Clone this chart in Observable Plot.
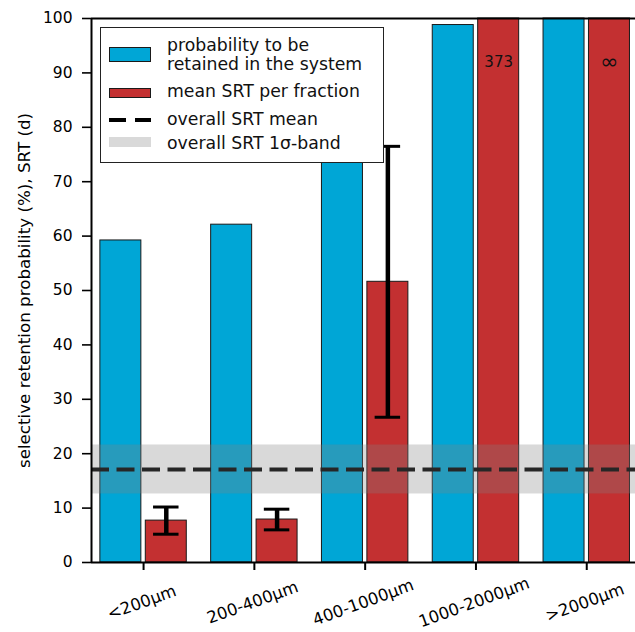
<!DOCTYPE html>
<html>
<head>
<meta charset="utf-8">
<script src="https://cdn.jsdelivr.net/npm/d3@7"></script>
<script src="https://cdn.jsdelivr.net/npm/@observablehq/plot@0.6"></script>
<style>
  html, body { margin: 0; padding: 0; background: #fff; }
  #wrap { position: relative; width: 635px; height: 632px; font-family: "DejaVu Sans", sans-serif; }
  #legend { position: absolute; left: 100px; top: 27px; width: 284px; height: 136px; background: #fff; border: 1.4px solid #222; box-sizing: border-box; }
  #legend .sw { position: absolute; left: 8px; width: 42px; box-sizing: border-box; }
  #legend .tx { position: absolute; left: 66px; font-size: 17.3px; line-height: 19px; white-space: nowrap; color: #111; }
</style>
</head>
<body>
<div id="wrap"></div>
<script>
// ---- data ----
const categories = ["<200μm", "200-400μm", "400-1000μm", "1000-2000μm", ">2000μm"];
const retentionProbability = [59.2, 62.1, 85, 98.8, 100];   // %
const srtMean = [7.7, 7.9, 51.6, 373, Infinity];            // d
const srtSd = [2.5, 1.9, 24.9, null, null];                 // d
const srtLabels = [null, null, null, "373", "∞"];
const overallSrtMean = 17.1;
const overallSrtSd = 4.5;
const yTicks = [0, 10, 20, 30, 40, 50, 60, 70, 80, 90, 100];

const legendLabels = ["probability to be\nretained in the system", "mean SRT per fraction", "overall SRT mean", "overall SRT 1σ-band"];

// ---- build table ----
const rows = categories.map((c, i) => ({
  i, c, r: retentionProbability[i], m: srtMean[i], sd: srtSd[i], lab: srtLabels[i]
}));
const yMax = 100;
const xDomain = [-0.47, 4.44];
const blueOff = [-0.39, -0.02], redOff = [0.02, 0.39], redCenter = 0.205, capHalf = 0.115;
const errRows = rows.filter(d => d.sd != null);
const capRows = errRows.flatMap(d => [{x: d.i + redCenter, y: d.m - d.sd}, {x: d.i + redCenter, y: d.m + d.sd}]);

const BLUE = "#00a6d6", RED = "#c33031";

const chart = Plot.plot({
  width: 635, height: 632,
  marginLeft: 91, marginRight: 0, marginTop: 18, marginBottom: 70,
  x: {domain: xDomain, axis: null},
  y: {domain: [0, yMax], axis: null},
  style: {fontFamily: "DejaVu Sans, sans-serif", fontSize: "15.5px", background: "#fff", color: "#000"},
  marks: [
    Plot.rect(rows, {x1: d => d.i + blueOff[0], x2: d => d.i + blueOff[1], y1: 0, y2: d => Math.min(d.r, yMax), fill: BLUE, stroke: "#1a1a1a", strokeWidth: 1}),
    Plot.rect(rows, {x1: d => d.i + redOff[0], x2: d => d.i + redOff[1], y1: 0, y2: d => Math.min(d.m, yMax), fill: RED, stroke: "#1a1a1a", strokeWidth: 1}),
    Plot.text(rows.filter(d => d.lab), {x: d => d.i + redCenter, y: 92, text: "lab", fontSize: d => d.lab === "∞" ? 22 : 15, fill: "#111"}),
    Plot.rect([{}], {x1: xDomain[0], x2: xDomain[1], y1: overallSrtMean - overallSrtSd, y2: overallSrtMean + overallSrtSd, fill: "gray", fillOpacity: 0.3}),
    Plot.ruleX(errRows, {x: d => d.i + redCenter, y1: d => d.m - d.sd, y2: d => d.m + d.sd, stroke: "#000", strokeWidth: 4.5}),
    Plot.ruleY(capRows, {x1: d => d.x - capHalf, x2: d => d.x + capHalf, y: "y", stroke: "#000", strokeWidth: 3}),
    Plot.ruleY([overallSrtMean], {stroke: "#262626", strokeWidth: 4, strokeDasharray: "18,7.5"}),
    Plot.axisY({ticks: yTicks, tickSize: 9, tickPadding: 10, strokeWidth: 1.6, fontSize: 15.5, label: null}),
    Plot.axisX({ticks: rows.map(d => d.i), tickSize: 8, strokeWidth: 2, tickFormat: () => "", label: null}),
    Plot.text(rows, {x: "i", text: "c", frameAnchor: "bottom", rotate: -20, dy: 45, fontSize: 16.5, textAnchor: "middle"}),
    Plot.text(["selective retention probability (%), SRT (d)"], {frameAnchor: "left", rotate: -90, dx: -67, dy: 0, fontSize: 16.7, textAnchor: "middle"}),
    Plot.ruleY([0, yMax], {stroke: "#000", strokeWidth: 2}),
    Plot.ruleX([xDomain[0]], {stroke: "#000", strokeWidth: 2})
  ]
});

const wrap = document.getElementById("wrap");
wrap.appendChild(chart);

// ---- legend ----
const legend = document.createElement("div");
legend.id = "legend";
legend.innerHTML = `
  <div class="sw" style="top:19px;height:15px;background:${BLUE};border:1px solid #1a1a1a"></div>
  <div class="sw" style="top:60px;height:10px;background:${RED};border:1px solid #1a1a1a"></div>
  <div class="sw" style="top:90px;height:4px;background:repeating-linear-gradient(90deg,#000 0 17px,transparent 17px 26px)"></div>
  <div class="sw" style="top:109px;height:10px;background:#d9d9d9"></div>
  <div class="tx" style="top:8px">${legendLabels[0].replace("\n", "<br>")}</div>
  <div class="tx" style="top:54px">${legendLabels[1]}</div>
  <div class="tx" style="top:82px">${legendLabels[2]}</div>
  <div class="tx" style="top:106px">${legendLabels[3]}</div>`;
wrap.appendChild(legend);
</script>
</body>
</html>
